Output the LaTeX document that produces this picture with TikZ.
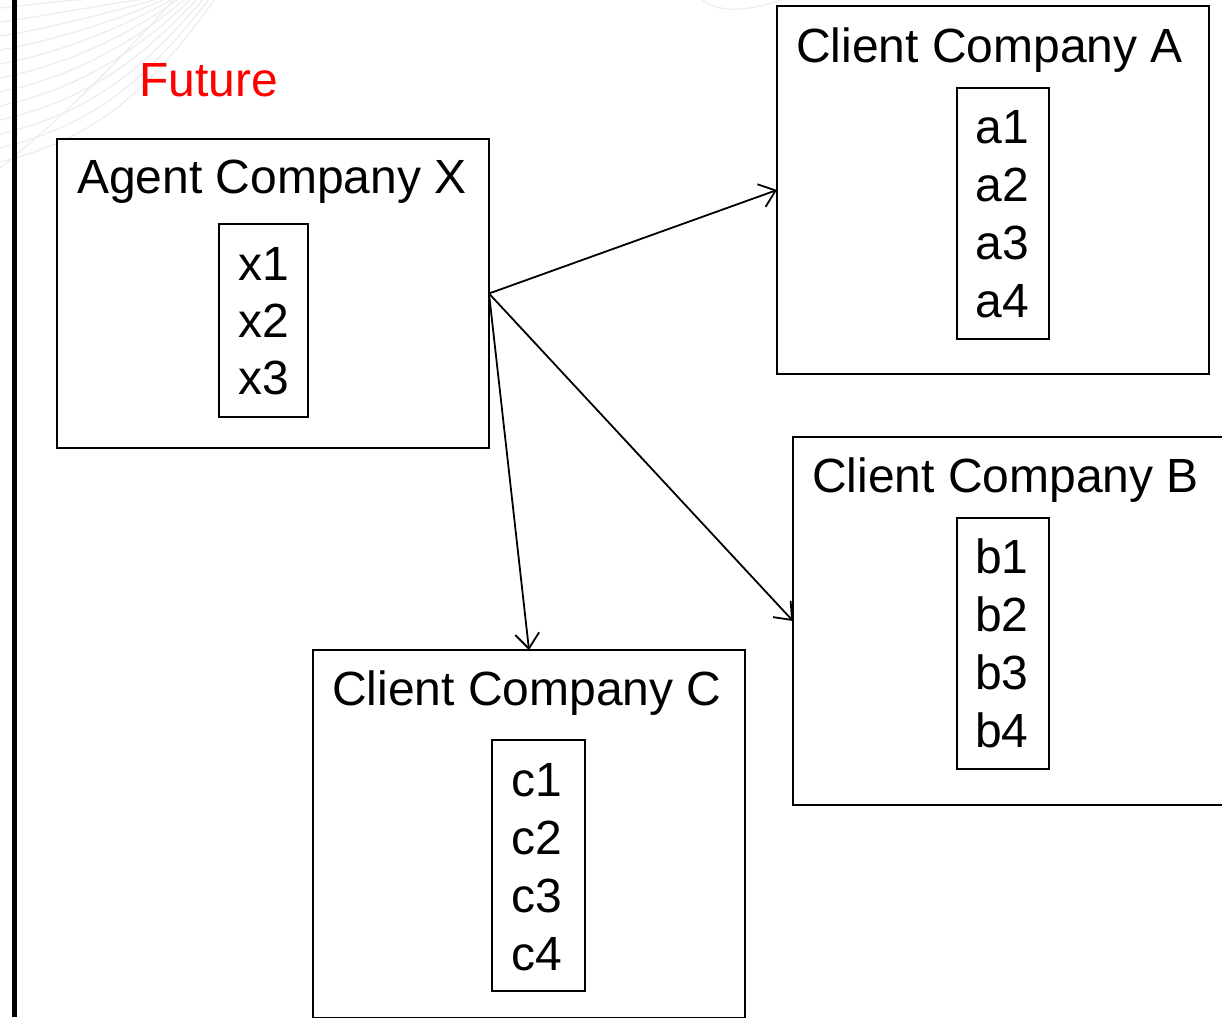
\documentclass[tikz,border=0pt]{standalone}
\usepackage{fontspec}
\setmainfont{Liberation Sans}
\usetikzlibrary{arrows.meta}
\begin{document}
\begin{tikzpicture}[x=1pt,y=-1pt,
  outerbox/.style={draw,line width=2pt,outer sep=0pt,inner sep=0pt,minimum width=432pt,anchor=north west},
  innerbox/.style={draw,line width=1.6pt,outer sep=0pt,inner sep=0pt,anchor=north west},
  bigtext/.style={font=\fontsize{48}{57}\selectfont,inner sep=0pt,anchor=base west},
  link/.style={line width=1.8pt,-{Straight Barb[length=15pt,width=24pt,line width=1.8pt]}},
  swirl/.style={gray!14,line width=1.2pt}]
\useasboundingbox (0,0) rectangle (1222,1017);
\clip (0,0) rectangle (1222,1017);
\fill[white] (0,0) rectangle (1222,1017);
% faint background swirls
\foreach \k in {0,...,11}{
  \draw[swirl] (0,{8+14*\k}) .. controls ({40+6*\k},{4+12*\k}) and ({110+4*\k},{-6+8*\k}) .. ({150+6*\k},-2);
}
\draw[swirl] (0,168) .. controls (60,120) and (120,60) .. (175,-2);
\draw[swirl] (700,-2) .. controls (715,12) and (745,14) .. (785,-2);
% left thick line
\draw[line width=5pt] (14.5,0) -- (14.5,1017);
% Future
\node[bigtext,text=red] (future) at (139,96) {Future};
% Agent Company X
\node[outerbox,minimum height=309pt] (X) at (57,139) {};
\node[bigtext] (Xt) at (77,193) {Agent Company X};
\node[innerbox,minimum width=89pt,minimum height=193pt] (Xi) at (219,224) {};
\foreach \t [count=\i from 0] in {x1,x2,x3}
  \node[bigtext] (x\i) at (238,{280+57*\i}) {\t};
% Client Company A
\node[outerbox,minimum height=368pt] (A) at (777,6) {};
\node[bigtext] (At) at (796,62) {Client Company A};
\node[innerbox,minimum width=92pt,minimum height=251pt] (Ai) at (957,88) {};
\foreach \t [count=\i from 0] in {a1,a2,a3,a4}
  \node[bigtext] (a\i) at (975.5,{143+58*\i}) {\t};
% Client Company B
\node[outerbox,minimum height=368pt] (B) at (793,437) {};
\node[bigtext] (Bt) at (812,492) {Client Company B};
\node[innerbox,minimum width=92pt,minimum height=251pt] (Bi) at (957,518) {};
\foreach \t [count=\i from 0] in {b1,b2,b3,b4}
  \node[bigtext] (b\i) at (975,{573+58*\i}) {\t};
% Client Company C
\node[outerbox,minimum height=368pt] (C) at (313,650) {};
\node[bigtext] (Ct) at (332,705) {Client Company C};
\node[innerbox,minimum width=93pt,minimum height=251pt] (Ci) at (492,740) {};
\foreach \t [count=\i from 0] in {c1,c2,c3,c4}
  \node[bigtext] (c\i) at (511.5,{796+58*\i}) {\t};
% connectors
\draw[link] (X.east) -- (A.west);
\draw[link] (X.east) -- (B.west);
\draw[link] (X.east) -- (C.north);
\end{tikzpicture}
\end{document}
